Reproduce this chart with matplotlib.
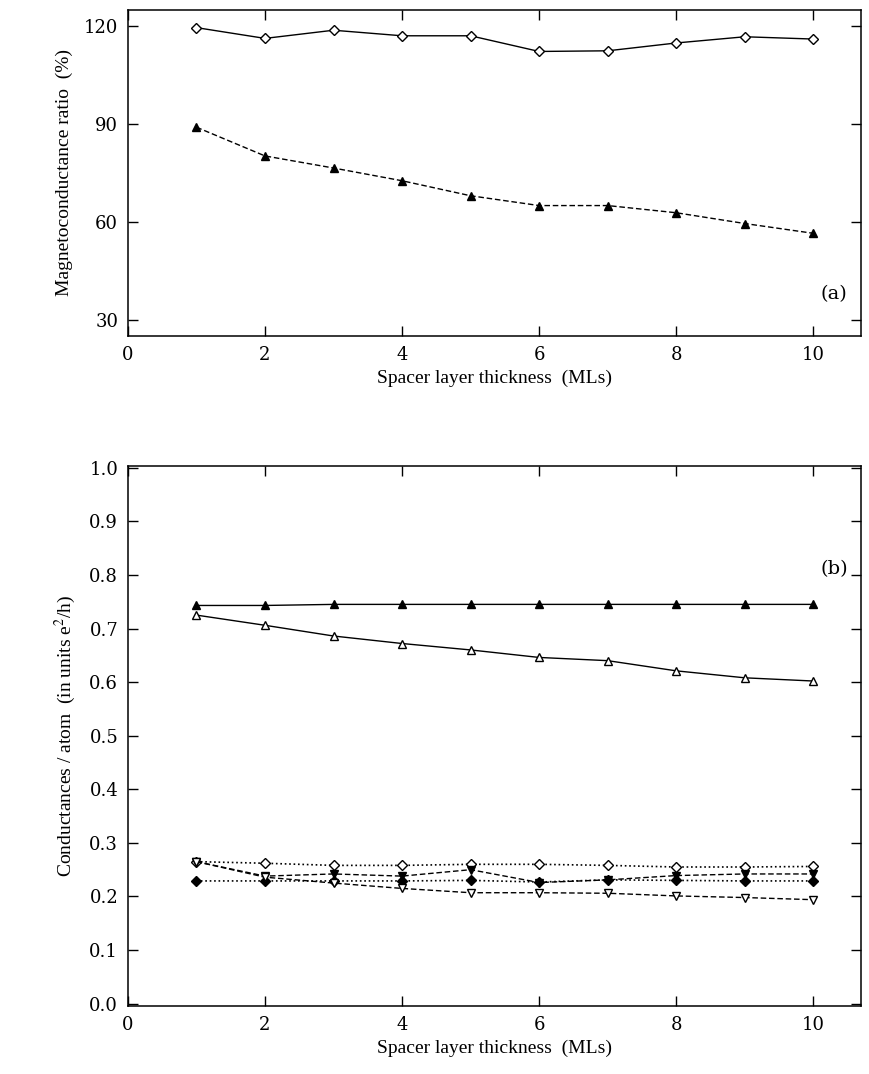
import numpy as np
import matplotlib.pyplot as plt

plt.rcParams['font.family'] = ['Liberation Serif', 'DejaVu Serif']
plt.rcParams['mathtext.fontset'] = 'stix'

thickness = np.arange(1, 11)

# panel (a): magnetoconductance ratio (%)
ratio_diamond = [119.5, 116.2, 118.7, 117.0, 117.0, 112.2, 112.4, 114.8, 116.7, 116.0]
ratio_triangle = [89.0, 80.2, 76.5, 72.6, 68.0, 65.0, 65.0, 62.8, 59.5, 56.5]

# panel (b): conductances / atom (e^2/h)
g_up_fill = [0.743, 0.743, 0.745, 0.745, 0.745, 0.745, 0.745, 0.745, 0.745, 0.745]
g_up_open = [0.725, 0.706, 0.686, 0.672, 0.660, 0.646, 0.640, 0.621, 0.608, 0.602]
g_dia_open = [0.265, 0.262, 0.258, 0.258, 0.260, 0.260, 0.258, 0.255, 0.255, 0.256]
g_dia_fill = [0.229, 0.229, 0.229, 0.229, 0.230, 0.227, 0.231, 0.230, 0.229, 0.229]
g_dn_fill = [0.265, 0.238, 0.242, 0.238, 0.250, 0.226, 0.231, 0.239, 0.242, 0.242]
g_dn_open = [0.265, 0.236, 0.225, 0.215, 0.207, 0.207, 0.206, 0.201, 0.198, 0.194]

fig = plt.figure(figsize=(8.7, 10.74), dpi=100)
ax1 = fig.add_axes([0.147, 0.687, 0.843, 0.304])
ax2 = fig.add_axes([0.147, 0.063, 0.843, 0.503])

ms = 6
ax1.plot(thickness, ratio_diamond, '-', color='black', lw=1, marker='D', ms=ms - 1,
         mfc='white', mec='black', mew=1)
ax1.plot(thickness, ratio_triangle, '--', color='black', lw=1, marker='^', ms=ms,
         mfc='black', mec='black', dashes=(4, 2))
ax1.set_xlim(0, 10.7)
ax1.set_ylim(25, 125)
ax1.set_yticks([30, 60, 90, 120])
ax1.set_xticks([0, 2, 4, 6, 8, 10])
ax1.set_xlabel('Spacer layer thickness  (MLs)', fontsize=14, labelpad=4)
ax1.set_ylabel('Magnetoconductance ratio  (%)', fontsize=14, labelpad=8)
ax1.text(10.3, 38, '(a)', fontsize=14, ha='center', va='center',
         family='DejaVu Serif')

ax2.plot(thickness, g_up_fill, '-', color='black', lw=1, marker='^', ms=ms,
         mfc='black', mec='black')
ax2.plot(thickness, g_up_open, '-', color='black', lw=1, marker='^', ms=ms,
         mfc='white', mec='black')
ax2.plot(thickness, g_dia_open, ':', color='black', lw=1.2, marker='D', ms=ms - 1,
         mfc='white', mec='black')
ax2.plot(thickness, g_dia_fill, ':', color='black', lw=1.2, marker='D', ms=ms - 1,
         mfc='black', mec='black')
ax2.plot(thickness, g_dn_fill, '--', color='black', lw=1, marker='v', ms=ms,
         mfc='black', mec='black', dashes=(4, 2))
ax2.plot(thickness, g_dn_open, '--', color='black', lw=1, marker='v', ms=ms,
         mfc='white', mec='black', dashes=(4, 2))
ax2.set_xlim(0, 10.7)
ax2.set_ylim(-0.005, 1.003)
ax2.set_yticks(np.round(np.arange(0, 1.01, 0.1), 1))
ax2.set_yticklabels(['%.1f' % v for v in np.arange(0, 1.01, 0.1)])
ax2.set_xticks([0, 2, 4, 6, 8, 10])
ax2.set_xlabel('Spacer layer thickness  (MLs)', fontsize=14, labelpad=4)
ax2.set_ylabel(r'Conductances / atom  (in units e$^2$/h)', fontsize=14, labelpad=8)
ax2.text(10.3, 0.81, '(b)', fontsize=14, ha='center', va='center',
         family='DejaVu Serif')

for ax in (ax1, ax2):
    ax.tick_params(direction='in', top=True, right=True, length=7, width=1,
                   labelsize=13, pad=7)
    for lab in ax.get_xticklabels() + ax.get_yticklabels():
        lab.set_family('DejaVu Serif')
    for s in ax.spines.values():
        s.set_linewidth(1.1)

fig.savefig('out.png', dpi=100)
